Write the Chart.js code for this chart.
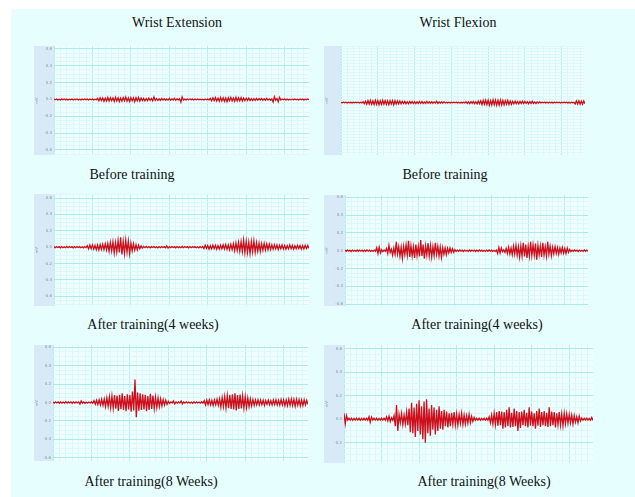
<!DOCTYPE html>
<html>
<head>
<meta charset="utf-8">
<script src="https://cdn.jsdelivr.net/npm/chart.js@4.4.0/dist/chart.umd.min.js"></script>
<style>
body{margin:0;background:#fff;width:635px;height:497px;overflow:hidden;}
#fig{position:absolute;left:11px;top:9px;width:624px;height:488px;background:#e6fefe;}
.pan{position:absolute;background:#d8e9f7;}
.cap{position:absolute;font:14px "Liberation Serif","Times New Roman",serif;color:#111;transform:translateX(-50%);white-space:nowrap;}
</style>
</head>
<body>
<div id="fig"></div>
<div class="cap" style="left:177px;top:15px">Wrist Extension</div>
<div class="cap" style="left:458px;top:15px">Wrist Flexion</div>
<div class="cap" style="left:132px;top:167px">Before training</div>
<div class="cap" style="left:445px;top:167px">Before training</div>
<div class="cap" style="left:153px;top:317px">After training(4 weeks)</div>
<div class="cap" style="left:477px;top:317px">After training(4 weeks)</div>
<div class="cap" style="left:151px;top:474px">After training(8 Weeks)</div>
<div class="cap" style="left:484px;top:474px">After training(8 Weeks)</div>
<script>
// EMG amplitude (mV), 200 samples per trace
var extBefore = [
0.005,-0.004,0.006,-0.005,0.003,-0.006,0.004,-0.003,0.005,-0.005,
0.004,-0.006,0.003,-0.004,0.006,-0.005,0.004,-0.003,0.005,-0.006,
0.003,-0.005,0.006,-0.004,0.005,-0.003,0.004,-0.006,0.005,-0.004,
0.006,-0.005,0.003,-0.004,0.012,-0.016,0.02,-0.013,0.018,-0.022,
0.015,-0.019,0.024,-0.017,0.021,-0.014,0.019,-0.023,0.026,-0.018,
0.02,-0.025,0.017,-0.021,0.023,-0.016,0.028,-0.02,0.018,-0.024,
0.022,-0.017,0.019,-0.026,0.021,-0.015,0.024,-0.02,0.017,-0.014,
0.013,-0.016,0.011,-0.014,0.015,-0.01,0.012,-0.017,0.03,-0.012,
0.009,-0.011,0.008,-0.012,0.01,-0.007,0.009,-0.01,0.006,-0.008,
0.012,-0.009,0.007,-0.006,0.014,-0.01,0.006,-0.005,0.007,-0.032,
0.028,-0.006,0.004,-0.005,0.006,-0.004,0.005,-0.003,0.004,-0.006,
0.005,-0.004,0.006,-0.003,0.004,-0.005,0.003,-0.006,0.005,-0.004,
0.004,-0.005,0.012,-0.015,0.019,-0.014,0.022,-0.018,0.016,-0.021,
0.024,-0.017,0.02,-0.023,0.018,-0.026,0.021,-0.016,0.025,-0.019,
0.017,-0.022,0.026,-0.018,0.02,-0.015,0.023,-0.019,0.016,-0.013,
0.014,-0.011,0.016,-0.012,0.01,-0.013,0.009,-0.011,0.012,-0.008,
0.01,-0.007,0.011,-0.009,0.008,-0.01,0.013,-0.008,0.007,-0.009,
0.006,-0.03,0.032,-0.008,0.01,-0.028,0.026,-0.006,0.005,-0.004,
0.006,-0.005,0.004,-0.006,0.003,-0.005,0.004,-0.003,0.005,-0.004,
0.003,-0.006,0.005,-0.004,0.006,-0.005,0.004,-0.003,0.005,-0.004
];
var flexBefore = [
0.006,-0.005,0.007,-0.004,0.005,-0.007,0.006,-0.005,0.004,-0.006,
0.007,-0.005,0.006,-0.004,0.005,-0.007,0.006,-0.005,0.014,-0.018,
0.022,-0.028,0.032,-0.025,0.036,-0.03,0.027,-0.034,0.038,-0.029,
0.033,-0.037,0.028,-0.032,0.04,-0.027,0.035,-0.031,0.029,-0.036,
0.031,-0.026,0.034,-0.038,0.03,-0.024,0.028,-0.022,0.025,-0.02,
0.019,-0.016,0.021,-0.018,0.015,-0.02,0.017,-0.014,0.019,-0.016,
0.014,-0.017,0.013,-0.015,0.018,-0.012,0.016,-0.013,0.011,-0.014,
0.02,-0.012,0.013,-0.01,0.015,-0.011,0.012,-0.009,0.022,-0.013,
0.01,-0.009,0.011,-0.008,0.012,-0.007,0.007,-0.006,0.005,-0.007,
0.006,-0.005,0.007,-0.004,0.006,-0.006,0.005,-0.007,0.004,-0.006,
0.006,-0.005,0.012,-0.015,0.013,-0.017,0.016,-0.014,0.019,-0.018,
0.015,-0.021,0.024,-0.02,0.028,-0.033,0.036,-0.03,0.04,-0.035,
0.038,-0.043,0.034,-0.039,0.045,-0.036,0.041,-0.047,0.037,-0.042,
0.044,-0.038,0.035,-0.04,0.033,-0.029,0.036,-0.031,0.026,-0.03,
0.022,-0.019,0.024,-0.018,0.017,-0.021,0.019,-0.016,0.023,-0.015,
0.018,-0.014,0.016,-0.02,0.014,-0.012,0.021,-0.013,0.011,-0.016,
0.01,-0.008,0.012,-0.007,0.006,-0.005,0.007,-0.006,0.005,-0.007,
0.006,-0.005,0.004,-0.006,0.007,-0.005,0.006,-0.004,0.005,-0.007,
0.006,-0.005,0.007,-0.004,0.005,-0.006,0.004,-0.007,0.006,-0.005,
0.005,-0.022,0.028,-0.025,0.03,-0.027,0.024,-0.029,0.026,-0.02
];
var ext4w = [
0.007,-0.006,0.008,-0.005,0.006,-0.008,0.007,-0.006,0.005,-0.007,
0.008,-0.006,0.007,-0.005,0.006,-0.008,0.007,-0.006,0.008,-0.005,
0.006,-0.007,0.005,-0.008,0.007,-0.006,0.018,-0.022,0.025,-0.019,
0.028,-0.024,0.021,-0.03,0.026,-0.034,0.03,-0.027,0.036,-0.031,
0.04,-0.035,0.045,-0.05,0.058,-0.047,0.065,-0.072,0.055,-0.06,
0.08,-0.066,0.12,-0.09,0.07,-0.078,0.085,-0.06,0.075,-0.082,
0.05,-0.045,0.042,-0.038,0.03,-0.034,0.025,-0.02,0.015,-0.012,
0.009,-0.007,0.008,-0.006,0.007,-0.008,0.006,-0.005,0.007,-0.006,
0.005,-0.008,0.007,-0.006,0.008,-0.005,0.006,-0.007,0.015,-0.012,
0.007,-0.006,0.008,-0.005,0.006,-0.008,0.007,-0.006,0.005,-0.007,
0.008,-0.006,0.007,-0.005,0.006,-0.008,0.007,-0.006,0.008,-0.005,
0.006,-0.007,0.005,-0.008,0.007,-0.006,0.008,-0.018,0.022,-0.016,
0.02,-0.024,0.017,-0.021,0.025,-0.018,0.022,-0.026,0.019,-0.023,
0.024,-0.02,0.027,-0.022,0.03,-0.026,0.028,-0.033,0.035,-0.03,
0.04,-0.045,0.05,-0.042,0.058,-0.05,0.066,-0.055,0.085,-0.07,
0.072,-0.065,0.06,-0.078,0.068,-0.058,0.075,-0.062,0.055,-0.05,
0.048,-0.055,0.042,-0.038,0.045,-0.035,0.04,-0.032,0.036,-0.03,
0.028,-0.025,0.03,-0.022,0.026,-0.028,0.023,-0.02,0.025,-0.022,
0.02,-0.024,0.018,-0.022,0.025,-0.019,0.021,-0.023,0.018,-0.02,
0.022,-0.018,0.02,-0.024,0.019,-0.021,0.023,-0.018,0.02,-0.017
];
var flex4w = [
0.007,-0.006,0.008,-0.005,0.006,-0.008,0.007,-0.006,0.005,-0.007,
0.008,-0.006,0.007,-0.005,0.006,-0.008,0.007,-0.006,0.008,-0.005,
0.006,-0.007,0.005,-0.008,0.007,-0.006,0.035,-0.03,0.04,-0.025,
0.012,-0.01,0.008,-0.007,0.025,-0.03,0.06,-0.02,0.015,-0.05,
0.03,-0.04,0.1,-0.035,0.045,-0.06,0.04,-0.085,0.05,-0.045,
0.065,-0.05,0.11,-0.07,0.055,-0.06,0.045,-0.08,0.07,-0.055,
0.05,-0.065,0.12,-0.06,0.07,-0.09,0.055,-0.05,0.085,-0.06,
0.06,-0.07,0.045,-0.055,0.09,-0.04,0.05,-0.06,0.04,-0.075,
0.035,-0.04,0.03,-0.045,0.028,-0.025,0.03,-0.02,0.022,-0.018,
0.012,-0.009,0.007,-0.006,0.008,-0.005,0.006,-0.008,0.007,-0.006,
0.005,-0.007,0.008,-0.006,0.007,-0.005,0.006,-0.008,0.007,-0.006,
0.008,-0.005,0.006,-0.007,0.005,-0.008,0.007,-0.006,0.008,-0.005,
0.006,-0.007,0.005,-0.008,0.007,-0.03,0.035,-0.025,0.03,-0.012,
0.01,-0.02,0.025,-0.03,0.04,-0.035,0.03,-0.045,0.05,-0.04,
0.06,-0.05,0.045,-0.07,0.055,-0.06,0.09,-0.065,0.07,-0.08,
0.05,-0.06,0.1,-0.055,0.065,-0.05,0.08,-0.1,0.06,-0.045,
0.055,-0.07,0.09,-0.05,0.045,-0.06,0.1,-0.04,0.05,-0.055,
0.04,-0.035,0.045,-0.03,0.035,-0.04,0.03,-0.025,0.035,-0.028,
0.025,-0.03,0.03,-0.02,0.015,-0.009,0.007,-0.006,0.008,-0.005,
0.006,-0.008,0.007,-0.006,0.005,-0.007,0.008,-0.006,0.007,-0.005
];
var ext8w = [
0.007,-0.006,0.008,-0.005,0.006,-0.008,0.007,-0.006,0.005,-0.007,
0.008,-0.006,0.007,-0.005,0.006,-0.008,0.007,-0.006,0.008,-0.005,
0.006,-0.016,0.018,-0.007,0.006,-0.008,0.005,-0.007,0.006,-0.005,
0.007,-0.006,0.02,-0.018,0.025,-0.022,0.03,-0.026,0.035,-0.03,
0.038,-0.045,0.05,-0.04,0.062,-0.055,0.07,-0.06,0.08,-0.068,
0.075,-0.09,0.085,-0.072,0.1,-0.08,0.07,-0.095,0.09,-0.075,
0.08,-0.1,0.12,-0.085,0.25,-0.16,0.11,-0.09,0.1,-0.08,
0.09,-0.075,0.085,-0.095,0.07,-0.08,0.095,-0.07,0.075,-0.065,
0.06,-0.055,0.05,-0.045,0.04,-0.035,0.032,-0.028,0.025,-0.02,
0.012,-0.009,0.007,-0.006,0.018,-0.015,0.007,-0.006,0.008,-0.005,
0.016,-0.014,0.007,-0.006,0.008,-0.005,0.006,-0.007,0.005,-0.008,
0.007,-0.006,0.008,-0.005,0.006,-0.007,0.008,-0.006,0.02,-0.025,
0.028,-0.022,0.03,-0.026,0.024,-0.032,0.028,-0.025,0.035,-0.03,
0.04,-0.05,0.055,-0.045,0.065,-0.058,0.075,-0.062,0.085,-0.07,
0.09,-0.075,0.1,-0.085,0.08,-0.07,0.088,-0.065,0.072,-0.06,
0.065,-0.055,0.05,-0.045,0.04,-0.035,0.032,-0.03,0.028,-0.025,
0.03,-0.025,0.028,-0.022,0.025,-0.03,0.022,-0.02,0.026,-0.023,
0.02,-0.025,0.028,-0.022,0.03,-0.026,0.024,-0.028,0.032,-0.025,
0.03,-0.035,0.028,-0.033,0.036,-0.03,0.038,-0.032,0.034,-0.04,
0.035,-0.03,0.032,-0.036,0.028,-0.033,0.03,-0.026,0.024,-0.02
];
var flex8w = [
0.05,-0.04,0.03,-0.008,0.009,-0.007,0.008,-0.009,0.007,-0.008,
0.009,-0.007,0.008,-0.009,0.007,-0.008,0.009,-0.007,0.008,-0.009,
0.02,-0.025,0.018,-0.008,0.009,-0.007,0.008,-0.009,0.007,-0.008,
0.009,-0.007,0.008,-0.009,0.02,-0.015,0.025,-0.02,0.012,-0.01,
0.03,-0.06,0.12,-0.1,0.04,-0.03,0.05,-0.045,0.035,-0.04,
0.06,-0.05,0.09,-0.11,0.14,-0.12,0.1,-0.15,0.13,-0.1,
0.16,-0.13,0.11,-0.17,0.15,-0.2,0.17,-0.12,0.09,-0.14,
0.12,-0.09,0.1,-0.13,0.08,-0.1,0.11,-0.08,0.07,-0.09,
0.08,-0.06,0.065,-0.07,0.05,-0.06,0.055,-0.045,0.06,-0.05,
0.045,-0.05,0.04,-0.035,0.05,-0.045,0.035,-0.04,0.03,-0.035,
0.04,-0.03,0.025,-0.02,0.015,-0.01,0.009,-0.007,0.008,-0.009,
0.007,-0.008,0.009,-0.007,0.008,-0.009,0.02,-0.03,0.035,-0.04,
0.05,-0.045,0.06,-0.055,0.07,-0.05,0.065,-0.08,0.06,-0.07,
0.08,-0.06,0.1,-0.07,0.055,-0.065,0.09,-0.06,0.07,-0.1,
0.06,-0.075,0.065,-0.05,0.08,-0.06,0.055,-0.07,0.1,-0.055,
0.065,-0.06,0.05,-0.08,0.07,-0.055,0.09,-0.065,0.06,-0.05,
0.07,-0.06,0.055,-0.065,0.1,-0.06,0.065,-0.05,0.06,-0.07,
0.05,-0.045,0.06,-0.05,0.045,-0.055,0.05,-0.04,0.045,-0.035,
0.04,-0.03,0.035,-0.04,0.03,-0.025,0.02,-0.03,0.025,-0.015,
0.01,-0.009,0.008,-0.007,0.009,-0.008,0.007,-0.009,0.015,-0.012
];

// axis ranges (mV) per trace
var yRanges = [[-0.66,0.635],[-0.89,0.96],[-0.72,0.65],[-0.62,0.625],[-0.635,0.625],[-0.372,0.63]];
var traces = [extBefore, flexBefore, ext4w, flex4w, ext8w, flex8w];

// where each panel sits on the page
var boxes = [
  {x:34, y:46, w:275, h:109, strip:20},
  {x:324, y:46, w:261, h:109, strip:17},
  {x:34, y:194, w:275, h:112, strip:20},
  {x:324, y:195, w:264, h:111, strip:21},
  {x:34, y:345, w:274, h:116, strip:19},
  {x:324, y:345, w:269, h:118, strip:20}
];

var plotBg = {
  id:'plotBg',
  beforeDraw(c){
    var a = c.chartArea;
    c.ctx.save();
    c.ctx.fillStyle = '#effefe';
    c.ctx.fillRect(a.left, a.top, a.right-a.left, a.bottom-a.top);
    c.ctx.restore();
  }
};

function isMajor(v){
  return Math.abs(v/0.2 - Math.round(v/0.2)) < 1e-6;
}

function makeChart(i){
  var b = boxes[i];
  var vals = traces[i];
  var div = document.createElement('div');
  div.className = 'pan';
  div.style.left = b.x+'px'; div.style.top = b.y+'px';
  div.style.width = b.w+'px'; div.style.height = b.h+'px';
  var cv = document.createElement('canvas');
  cv.width = b.w; cv.height = b.h;
  div.appendChild(cv);
  document.body.appendChild(div);

  new Chart(cv, {
    type:'line',
    data:{datasets:[{
      data: vals.map(function(v,k){ return {x:k, y:v}; }),
      borderColor:'#cc0f1a',
      borderWidth:1.3,
      pointRadius:0,
      tension:0
    }]},
    options:{
      responsive:false,
      animation:false,
      layout:{padding:0},
      plugins:{legend:{display:false}, tooltip:{enabled:false}},
      scales:{
        x:{
          type:'linear', min:0, max:vals.length-1,
          ticks:{display:false, stepSize:5, autoSkip:false, includeBounds:false},
          grid:{drawTicks:false, color:function(ctx){ return ctx.index%6===0 ? '#b6eef2' : '#daf8fa'; }},
          border:{display:false},
          afterFit:function(s){ s.height = 0; }
        },
        y:{
          min:yRanges[i][0], max:yRanges[i][1],
          ticks:{
            stepSize:0.05, autoSkip:false, includeBounds:false, padding:2,
            font:{size:4, family:'DejaVu Sans'}, color:'#8796a6',
            callback:function(v){ return isMajor(v) ? v.toFixed(1) : ''; }
          },
          grid:{drawTicks:false, color:function(ctx){ return isMajor(ctx.tick.value) ? '#a8ecf0' : '#dbf8fa'; }},
          border:{display:false},
          title:{display:true, text:'mV', font:{size:4}, color:'#8796a6', padding:0},
          afterFit:function(s){ s.width = b.strip; s.paddingTop = 0; s.paddingBottom = 0; }
        }
      }
    },
    plugins:[plotBg]
  });
}

for (var i = 0; i < traces.length; i++) makeChart(i);
</script>
</body>
</html>
